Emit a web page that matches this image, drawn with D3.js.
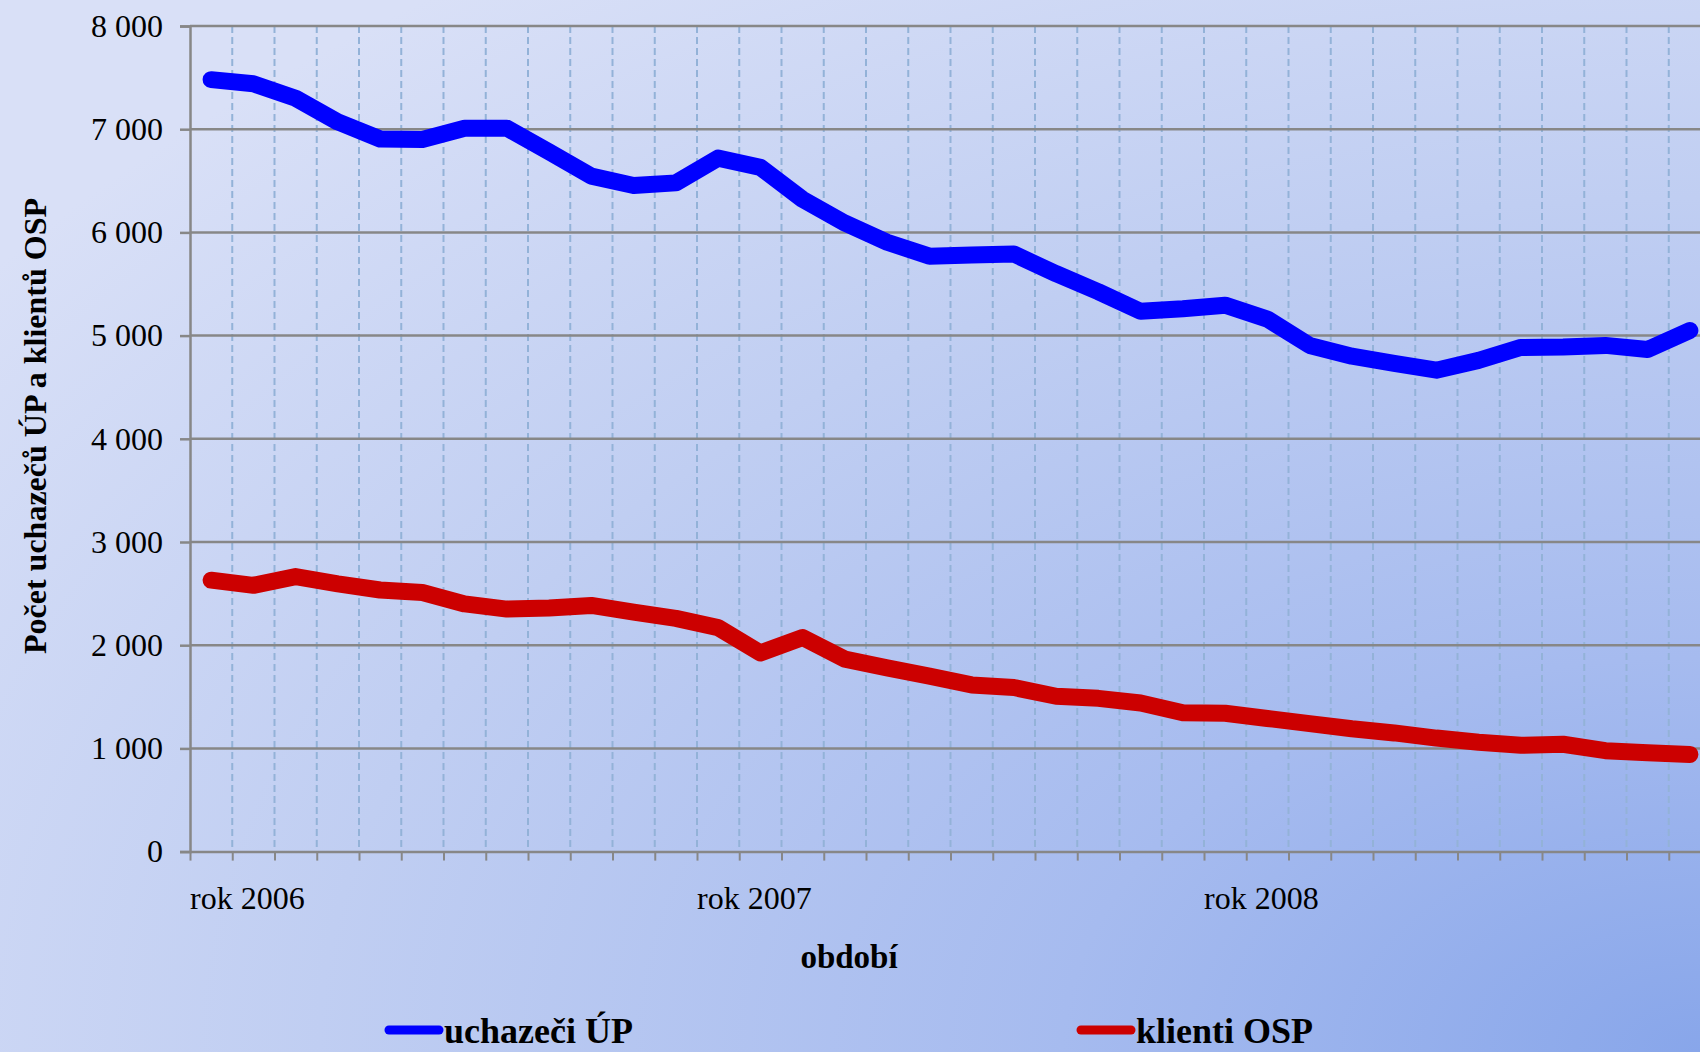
<!DOCTYPE html>
<html>
<head>
<meta charset="utf-8">
<script src="https://cdn.jsdelivr.net/npm/d3@7"></script>
<style>
  html, body { margin: 0; padding: 0; overflow: hidden; }
  svg { display: block; font-family: "Liberation Serif", "Times New Roman", serif; }
</style>
</head>
<body>
<div id="chart"></div>
<script>
// Years shown under the x axis (one label at the start of each year)
const years = ["rok 2006", "rok 2007", "rok 2008"];
const months = ["01", "02", "03", "04", "05", "06", "07", "08", "09", "10", "11", "12"];

// Monthly counts, Jan 2006 .. Dec 2008
const uchazeciUP = [
  7480, 7440, 7300, 7070, 6905, 6900, 7010, 7010, 6780, 6545, 6455, 6480,
  6720, 6630, 6320, 6090, 5905, 5770, 5780, 5790, 5600, 5425, 5235, 5260,
  5295, 5160, 4905, 4800, 4730, 4665, 4760, 4885, 4890, 4905, 4865, 5050
];
const klientiOSP = [
  2630, 2580, 2665, 2595, 2535, 2510, 2400, 2350, 2360, 2385, 2320, 2260,
  2170, 1925, 2075, 1865, 1780, 1700, 1615, 1590, 1505, 1485, 1440, 1345,
  1340, 1290, 1240, 1190, 1150, 1100, 1060, 1030, 1040, 978, 958, 942
];

const yTicks = [0, 1000, 2000, 3000, 4000, 5000, 6000, 7000, 8000];

const series = [
  { name: "uchazeči ÚP", values: uchazeciUP, color: "#0000ff" },
  { name: "klienti OSP", values: klientiOSP, color: "#cc0000" }
];

const W = 1700, H = 1052;
const X0 = 190, STEP = 42.25;          // plot starts at the y axis; last category runs past the edge
const Y_TOP = 26, Y_BOTTOM = 851.6;
const GRID = "#878787";

const categories = years.flatMap(y => months.map(m => y + "/" + m));

const svg = d3.select("#chart").append("svg")
  .attr("width", W)
  .attr("height", H);

// background: light lavender, deepening towards the bottom-right corner
const defs = svg.append("defs");
const grad = defs.append("radialGradient")
  .attr("id", "bg")
  .attr("cx", 1).attr("cy", 1).attr("r", 1.25)
  .attr("fx", 1).attr("fy", 1);
grad.append("stop").attr("offset", 0).attr("stop-color", "#88a6ea");
grad.append("stop").attr("offset", 0.3).attr("stop-color", "#a6bbef");
grad.append("stop").attr("offset", 0.65).attr("stop-color", "#c0cef2");
grad.append("stop").attr("offset", 1).attr("stop-color", "#d9e0f7");
svg.append("rect").attr("width", W).attr("height", H).attr("fill", "url(#bg)");

const x = d3.scaleBand()
  .domain(categories)
  .range([X0, X0 + categories.length * STEP])
  .paddingInner(0)
  .paddingOuter(0);

const xb = d3.scaleLinear()
  .domain([0, categories.length])
  .range([X0, X0 + categories.length * STEP]);

const y = d3.scaleLinear()
  .domain([0, 8000])
  .range([Y_BOTTOM, Y_TOP]);

// vertical dashed lines at category boundaries
svg.append("g")
  .selectAll("line")
  .data(d3.range(1, categories.length + 1))
  .join("line")
  .attr("x1", d => xb(d)).attr("x2", d => xb(d))
  .attr("y1", Y_TOP).attr("y2", Y_BOTTOM)
  .attr("stroke", "#93b2d8")
  .attr("stroke-width", 2)
  .attr("stroke-dasharray", "7,4");

// horizontal gridlines
svg.append("g")
  .selectAll("line")
  .data(yTicks.filter(d => d > 0))
  .join("line")
  .attr("x1", X0).attr("x2", W)
  .attr("y1", d => y(d)).attr("y2", d => y(d))
  .attr("stroke", GRID)
  .attr("stroke-width", 2.5);

const fmt = d3.formatLocale({ decimal: ",", thousands: " ", grouping: [3], currency: ["", ""] }).format(",d");

// y axis
const yAxis = svg.append("g")
  .attr("transform", `translate(${X0},0)`)
  .call(d3.axisLeft(y).tickValues(yTicks).tickSize(10).tickPadding(17).tickFormat(fmt));
yAxis.select(".domain").attr("stroke", GRID).attr("stroke-width", 2.5);
yAxis.selectAll(".tick line").attr("stroke", GRID).attr("stroke-width", 2.5);
yAxis.selectAll(".tick text")
  .attr("font-family", "Liberation Serif, Times New Roman, serif")
  .attr("font-size", 32)
  .attr("fill", "#000");

// x axis (ticks at category boundaries)
const xAxis = svg.append("g")
  .attr("transform", `translate(0,${Y_BOTTOM})`)
  .call(d3.axisBottom(xb).tickValues(d3.range(0, categories.length + 1)).tickSize(9).tickSizeOuter(0).tickFormat(""));
xAxis.select(".domain").attr("stroke", GRID).attr("stroke-width", 2.5);
xAxis.selectAll(".tick line").attr("stroke", GRID).attr("stroke-width", 2);

// year labels, left aligned at the first month of each year
svg.append("g")
  .selectAll("text")
  .data(years)
  .join("text")
  .attr("x", d => x(d + "/01"))
  .attr("y", 909)
  .attr("font-size", 32)
  .attr("fill", "#000")
  .text(d => d);

// axis titles
svg.append("text")
  .attr("x", 849)
  .attr("y", 968)
  .attr("text-anchor", "middle")
  .attr("font-size", 33)
  .attr("font-weight", "bold")
  .text("období");

svg.append("text")
  .attr("transform", "translate(46,426) rotate(-90)")
  .attr("text-anchor", "middle")
  .attr("font-size", 32)
  .attr("font-weight", "bold")
  .text("Počet uchazečů ÚP a klientů OSP");

// lines
const line = d3.line()
  .x((d, i) => x(categories[i]) + x.bandwidth() / 2)
  .y(d => y(d));

svg.append("g")
  .selectAll("path")
  .data(series)
  .join("path")
  .attr("d", d => line(d.values))
  .attr("fill", "none")
  .attr("stroke", d => d.color)
  .attr("stroke-width", 17)
  .attr("stroke-linejoin", "round")
  .attr("stroke-linecap", "round");

// legend
const legendX = [385, 1077];
const legend = svg.append("g")
  .selectAll("g")
  .data(series)
  .join("g")
  .attr("transform", (d, i) => `translate(${legendX[i]},1030)`);
legend.append("line")
  .attr("x1", 4).attr("x2", 54)
  .attr("stroke", d => d.color)
  .attr("stroke-width", 9)
  .attr("stroke-linecap", "round");
legend.append("text")
  .attr("x", 59)
  .attr("y", 13)
  .attr("font-size", 36)
  .attr("font-weight", "bold")
  .text(d => d.name);
</script>
</body>
</html>
